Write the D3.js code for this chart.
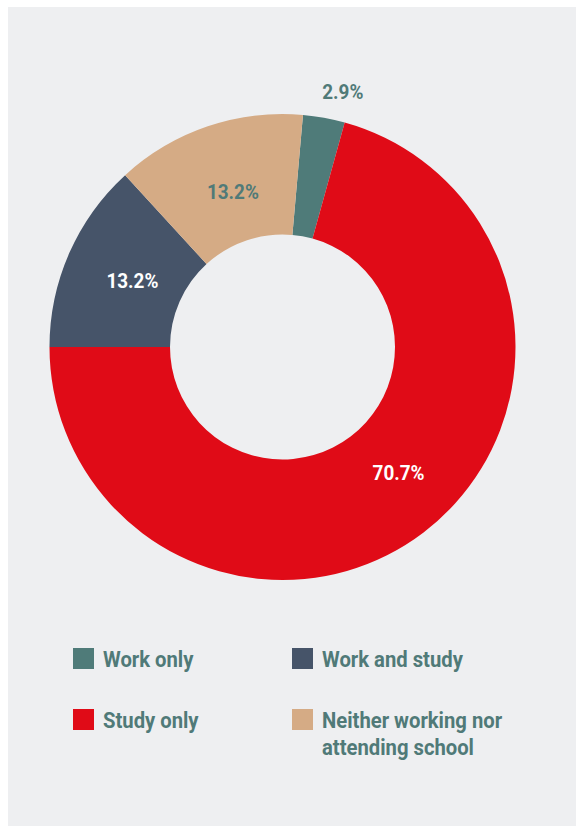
<!DOCTYPE html>
<html>
<head>
<meta charset="utf-8">
<script src="https://cdn.jsdelivr.net/npm/d3@7/dist/d3.min.js"></script>
<style>
  html, body { margin: 0; padding: 0; background: #ffffff; }
  svg { display: block; }
  text { font-family: "Roboto", "Noto Sans", sans-serif; font-weight: 700; }
</style>
</head>
<body>
<script>
// Share of young people by activity status
const categories = ["Work only", "Study only", "Work and study", "Neither working nor attending school"];
const shares = [2.9, 70.7, 13.2, 13.2];
const valueLabels = ["2.9%", "70.7%", "13.2%", "13.2%"];
const sliceColors = ["#4f7b79", "#e00b17", "#465469", "#d5ab85"];

// legend reads row by row: Work only, Work and study / Study only, Neither...
const legendOrder = [0, 2, 1, 3];
const legendLines = {
  0: ["Work only"],
  1: ["Study only"],
  2: ["Work and study"],
  3: ["Neither working nor", "attending school"]
};

const W = 576, H = 826;
const cx = 282.5, cy = 347, rOuter = 233, rInner = 112.5;
const textColor = "#507a78";
const squeeze = 0.9;   // narrow the bold face to a condensed look

const svg = d3.select("body").append("svg")
  .attr("width", W).attr("height", H);

// panel
svg.append("rect")
  .attr("x", 8).attr("y", 7).attr("width", W - 8).attr("height", H - 7)
  .attr("fill", "#eeeff1");

// the "Study only" slice ends exactly at nine o'clock
const total = d3.sum(shares);
const startDeg = 270 + 360 * (shares[2] + shares[3]) / total;
const start = startDeg * Math.PI / 180;

const pie = d3.pie().sort(null).value(d => d)
  .startAngle(start).endAngle(start + 2 * Math.PI);
const arcs = pie(shares);

const arc = d3.arc().innerRadius(rInner).outerRadius(rOuter);

const g = svg.append("g").attr("transform", `translate(${cx},${cy})`);

g.selectAll("path.slice")
  .data(arcs)
  .join("path")
  .attr("class", "slice")
  .attr("d", arc)
  .attr("fill", (d, i) => sliceColors[i]);

// value labels: inside the ring, except the narrow slice which sits outside
function squeezedText(sel, x, y, str, size, fill, anchor) {
  return sel.append("text")
    .attr("transform", `translate(${x},${y}) scale(${squeeze},1)`)
    .attr("text-anchor", anchor)
    .attr("font-size", size)
    .attr("fill", fill)
    .text(str);
}

const labelRadius = [263, 171, 164, 163];
const labelShift = [3, -5.5, 0, 1];   // degrees
const labelFill = ["#507a78", "#ffffff", "#ffffff", "#507a78"];

arcs.forEach((d, i) => {
  const a = (d.startAngle + d.endAngle) / 2 + labelShift[i] * Math.PI / 180;
  const x = Math.sin(a) * labelRadius[i];
  const y = -Math.cos(a) * labelRadius[i];
  squeezedText(g, x, y + 7.5, valueLabels[i], 21, labelFill[i], "middle");
});

// legend
const colX = [73, 292], rowY = [648, 709];
const box = 21, gap = 9, lineH = 27;
legendOrder.forEach((ci, k) => {
  const x = colX[k % 2], y = rowY[Math.floor(k / 2)];
  svg.append("rect")
    .attr("x", x).attr("y", y).attr("width", box).attr("height", box)
    .attr("fill", sliceColors[ci]);
  legendLines[ci].forEach((line, j) => {
    squeezedText(svg, x + box + gap, y + 19 + j * lineH, line, 22.5, textColor, "start");
  });
});
</script>
</body>
</html>
